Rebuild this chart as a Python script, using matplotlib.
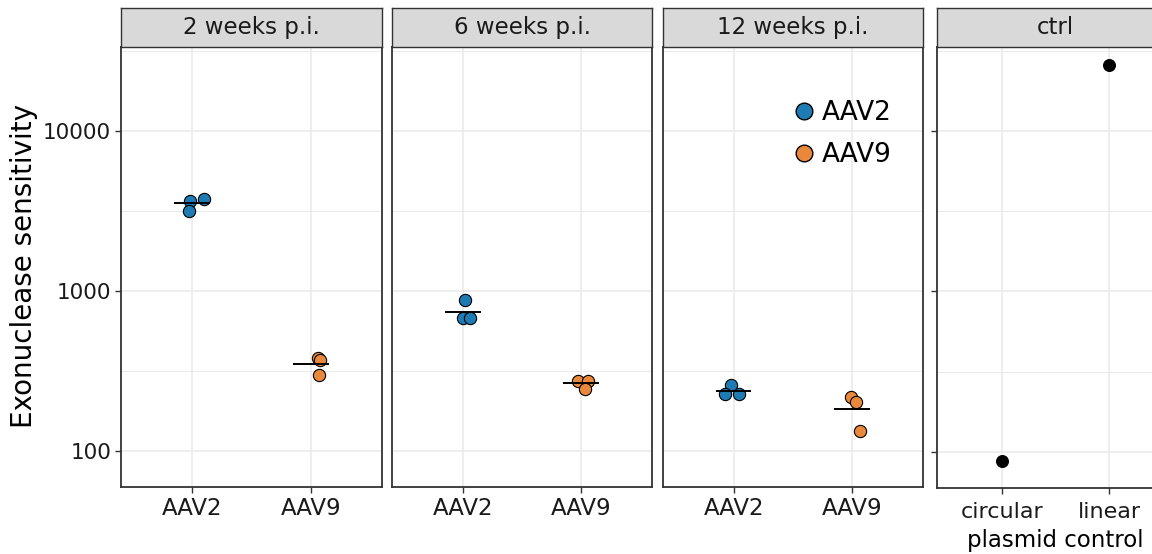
import numpy as np
import matplotlib
matplotlib.use("Agg")
import matplotlib.pyplot as plt
from matplotlib.lines import Line2D

plt.rcParams['font.family'] = ['DejaVu Sans']

# data
panels = ["2 weeks p.i.", "6 weeks p.i.", "12 weeks p.i."]
serotypes = ["AAV2", "AAV9"]
aav2 = [[3664, 3758, 3162], [875, 675, 680], [258, 227, 227]]
aav9 = [[380, 372, 300], [275, 275, 244], [218, 201, 134]]
ctrl_labels = ["circular", "linear"]
ctrl_values = [87, 25900]

# small fixed horizontal offsets so overlapping points stay visible
aav2_jitter = [[-0.02, 0.10, -0.025], [0.02, 0.0, 0.055], [-0.02, -0.07, 0.045]]
aav9_jitter = [[0.06, 0.08, 0.07], [-0.03, 0.06, 0.03], [-0.01, 0.035, 0.065]]

colors = {"AAV2": "#1F7BB3", "AAV9": "#E8883C"}
dark = "#333333"
grid_col = "#EBEBEB"
strip_col = "#D9D9D9"

W, H = 1152, 554
ylim = (10 ** 1.775, 10 ** 4.527)
major = [100, 1000, 10000]
minor = [10 ** 2.5, 10 ** 3.5, 10 ** 4.5]


def box(x0, y0, x1, y1):
    return [x0 / W, 1 - y1 / H, (x1 - x0) / W, (y1 - y0) / H]


def style_panel(ax):
    ax.set_yscale("log")
    ax.set_ylim(ylim)
    ax.set_xlim(-0.6, 1.6)
    ax.set_yticks(major)
    ax.set_yticks(minor, minor=True)
    ax.grid(True, which="major", color=grid_col, lw=1.2, zorder=0)
    ax.grid(True, which="minor", axis="y", color=grid_col, lw=0.7, zorder=0)
    ax.set_axisbelow(True)
    for s in ax.spines.values():
        s.set_color(dark)
        s.set_linewidth(1.3)
    ax.tick_params(which="minor", length=0)
    ax.tick_params(which="major", color=dark, length=4, width=1.0, pad=3)


def add_strip(pos, text, size=16.5):
    sx = fig.add_axes(pos)
    sx.set_facecolor(strip_col)
    sx.set_xticks([])
    sx.set_yticks([])
    for s in sx.spines.values():
        s.set_color(dark)
        s.set_linewidth(1.0)
    sx.text(0.5, 0.5, text, ha="center", va="center", fontsize=size,
            color="#1A1A1A", transform=sx.transAxes)


fig = plt.figure(figsize=(W / 100, H / 100), dpi=100)

lefts = [(121, 382), (392.3, 652), (662.7, 923)]
for i, (x0, x1) in enumerate(lefts):
    ax = fig.add_axes(box(x0, 46.7, x1, 487))
    style_panel(ax)
    for j, (vals, jit) in enumerate([(aav2[i], aav2_jitter[i]), (aav9[i], aav9_jitter[i])]):
        name = serotypes[j]
        ax.scatter(j + np.array(jit), vals, s=78, color=colors[name],
                   edgecolor="black", linewidth=0.8, zorder=3)
        ax.hlines(np.mean(vals), j - 0.15, j + 0.15, color="black", lw=1.4, zorder=4)
    ax.set_xticks([0, 1])
    ax.set_xticklabels(serotypes, fontsize=16.5, color="#1A1A1A")
    if i == 0:
        ax.set_yticklabels([str(v) for v in major], fontsize=15.5, color="#1A1A1A")
    else:
        ax.tick_params(axis="y", which="both", left=False, labelleft=False)
    if i == 2:
        handles = [Line2D([], [], marker="o", ls="", markersize=12,
                          markerfacecolor=colors[n], markeredgecolor="black",
                          markeredgewidth=1.0) for n in serotypes]
        ax.legend(handles, serotypes, loc="center left", bbox_to_anchor=(0.44, 0.802),
                  frameon=False, fontsize=19, handletextpad=0.1, labelspacing=0.6,
                  borderaxespad=0, handlelength=1.2)
    add_strip(box(x0, 8, x1, 46.7), panels[i])

# control plasmids
cx = fig.add_axes(box(937, 47, 1174, 487.6))
style_panel(cx)
cx.scatter(range(len(ctrl_labels)), ctrl_values, s=70, color="black", zorder=3)
cx.set_xticks(range(len(ctrl_labels)))
cx.set_xticklabels(ctrl_labels, fontsize=16, color="#1A1A1A")
cx.tick_params(axis="x", pad=6.5)
cx.set_yticklabels([])
cx.set_xlabel("plasmid control", fontsize=16.5, labelpad=5, color="black")
add_strip(box(937, 7.8, 1174, 47), "ctrl")

fig.text(24 / W, 1 - 266 / H, "Exonuclease sensitivity", rotation=90,
         ha="center", va="center", fontsize=20)

fig.savefig("out.png", dpi=100)
